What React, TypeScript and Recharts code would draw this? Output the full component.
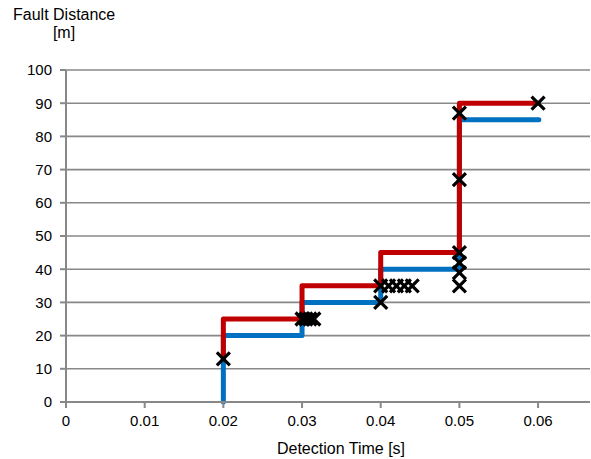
import {
  CartesianGrid,
  ComposedChart,
  Line,
  Scatter,
  XAxis,
  YAxis,
} from "recharts";

// blue step line (lower trip boundary)
const blueTimes = [0.02, 0.02, 0.03, 0.03, 0.04, 0.04, 0.05, 0.05, 0.0601];
const blueDistances = [0, 20, 20, 30, 30, 40, 40, 85, 85];

// red step line (upper trip boundary)
const redTimes = [0.02, 0.02, 0.03, 0.03, 0.04, 0.04, 0.05, 0.05, 0.06];
const redDistances = [13, 25, 25, 35, 35, 45, 45, 90, 90];

// measured detections (black crosses)
const crossTimes = [
  0.02, 0.03, 0.0305, 0.031, 0.0315, 0.04, 0.04, 0.041, 0.042, 0.043, 0.044,
  0.05, 0.05, 0.05, 0.05, 0.05, 0.05, 0.06,
];
const crossDistances = [
  13, 25, 25, 25, 25, 30, 35, 35, 35, 35, 35, 35, 39, 42, 45, 67, 87, 90,
];

const xTicks = [0, 0.01, 0.02, 0.03, 0.04, 0.05, 0.06];
const yTicks = [0, 10, 20, 30, 40, 50, 60, 70, 80, 90, 100];

const blueData = blueTimes.map((t, i) => ({ t, d: blueDistances[i] }));
const redData = redTimes.map((t, i) => ({ t, d: redDistances[i] }));
const crossData = crossTimes.map((t, i) => ({ t, d: crossDistances[i] }));

const FONT = "'Liberation Sans', Arial, sans-serif";
const TICK_FS = 15;
const LABEL_FS = 16;
const GRID = "#888888";

function Cross(props: any) {
  const { cx, cy } = props;
  const r = 6.5;
  return (
    <path
      d={`M${cx - r},${cy - r}L${cx + r},${cy + r}M${cx - r},${cy + r}L${cx + r},${cy - r}`}
      stroke="#000"
      strokeWidth={3.2}
      fill="none"
    />
  );
}

const tickStyle = { fontSize: TICK_FS, fill: "#000", fontFamily: FONT };

export default function App() {
  return (
    <div style={{ position: "absolute", left: 0, top: 0, background: "#fff" }}>
      <ComposedChart
        width={591}
        height={459}
        margin={{ top: 70, right: 1, left: 16, bottom: 27 }}
        style={{ fontFamily: FONT }}
      >
        <CartesianGrid vertical={false} stroke={GRID} strokeWidth={1.6} />
        <XAxis
          type="number"
          dataKey="t"
          domain={[0, 0.0666]}
          ticks={xTicks}
          allowDataOverflow
          height={30}
          tick={tickStyle}
          tickSize={6}
          tickMargin={7}
          stroke={GRID}
          strokeWidth={2}
          label={{
            content: () => (
              <text x={341} y={454} textAnchor="middle" fontSize={LABEL_FS} fontFamily={FONT} fill="#000">
                Detection Time [s]
              </text>
            ),
          }}
        />
        <YAxis
          type="number"
          dataKey="d"
          domain={[0, 100]}
          ticks={yTicks}
          width={50}
          tick={tickStyle}
          tickSize={6}
          tickMargin={8}
          stroke={GRID}
          strokeWidth={2}
          label={{
            content: () => (
              <g fontSize={LABEL_FS} fontFamily={FONT} fill="#000">
                <text x={13} y={20}>Fault Distance</text>
                <text x={64} y={38} textAnchor="middle">[m]</text>
              </g>
            ),
          }}
        />
        <Line
          data={blueData}
          dataKey="d"
          type="linear"
          stroke="#0070c0"
          strokeWidth={5}
          strokeLinecap="round"
          strokeLinejoin="round"
          dot={false}
          activeDot={false}
          isAnimationActive={false}
        />
        <Line
          data={redData}
          dataKey="d"
          type="linear"
          stroke="#c00000"
          strokeWidth={5}
          strokeLinecap="round"
          strokeLinejoin="round"
          dot={false}
          activeDot={false}
          isAnimationActive={false}
        />
        <Scatter
          data={crossData}
          dataKey="d"
          shape={<Cross />}
          isAnimationActive={false}
        />
      </ComposedChart>
    </div>
  );
}
